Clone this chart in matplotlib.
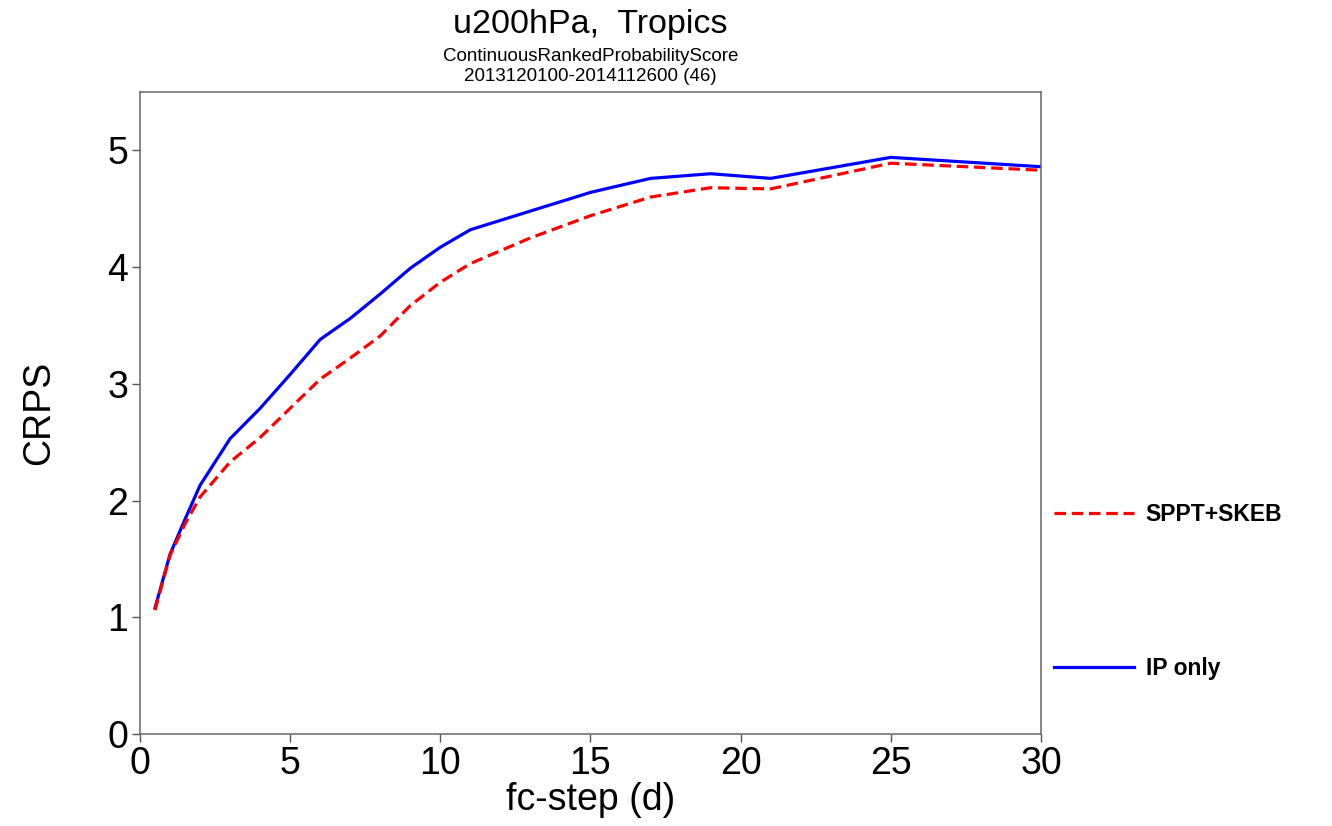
import numpy as np
import matplotlib
matplotlib.use('Agg')
import matplotlib.pyplot as plt

plt.rcParams['font.family'] = ['Liberation Sans', 'DejaVu Sans']

# forecast step (days)
fc_step = [0.5, 1, 1.5, 2, 3, 4, 5, 6, 7, 8, 9, 10, 11, 13, 15, 17, 19, 21, 25, 30]
# CRPS values
crps_sppt_skeb = [1.06, 1.53, 1.80, 2.03, 2.33, 2.54, 2.79, 3.04, 3.22, 3.41, 3.67, 3.87, 4.03,
                  4.25, 4.44, 4.60, 4.68, 4.67, 4.89, 4.83]
crps_ip_only = [1.08, 1.54, 1.84, 2.13, 2.53, 2.79, 3.08, 3.38, 3.56, 3.77, 3.99, 4.17, 4.32,
                4.48, 4.64, 4.76, 4.80, 4.76, 4.94, 4.86]

series_labels = ['SPPT+SKEB', 'IP only']
x_ticks = [0, 5, 10, 15, 20, 25, 30]
y_ticks = [0, 1, 2, 3, 4, 5]

title = 'u200hPa,  Tropics'
subtitle = 'ContinuousRankedProbabilityScore\n2013120100-2014112600 (46)'

fig = plt.figure(figsize=(13.32, 8.26), dpi=100)
ax = fig.add_axes([0.1051, 0.1114, 0.6764, 0.7772])

ax.plot(fc_step, crps_ip_only, color='#0000ff', lw=2.3, label=series_labels[1], zorder=2)
ax.plot(fc_step, crps_sppt_skeb, color='#ff0000', lw=2.3, dashes=(3.6, 1.8),
        label=series_labels[0], zorder=3)

ax.set_xlim(0, 30)
ax.set_ylim(0, 5.5)
ax.set_xticks(x_ticks)
ax.set_yticks(y_ticks)
ax.tick_params(direction='out', length=6, width=1, color='#555555', labelsize=27)
ax.tick_params(axis='x', pad=3)
ax.tick_params(axis='y', pad=2.5)
for s in ax.spines.values():
    s.set_color('#666666')
    s.set_linewidth(1.1)

ax.set_xlabel('fc-step (d)', fontsize=27, labelpad=0)
ax.set_ylabel('CRPS', fontsize=27, labelpad=36)

fig.text(0.4432, 0.970, title, ha='center', va='center', fontsize=24.5)
fig.text(0.4432, 0.9195, subtitle, ha='center', va='center', fontsize=13.5, linespacing=1.3)

handles, labels = ax.get_legend_handles_labels()
leg = ax.legend(handles[::-1], labels[::-1], loc='center left', bbox_to_anchor=(1.0144, 0.222),
                frameon=False, borderaxespad=0, borderpad=0, handlelength=3.5,
                handletextpad=0.5, labelspacing=5.75, prop={'weight': 'bold', 'size': 16.5})

plt.savefig('out.png', dpi=100)
